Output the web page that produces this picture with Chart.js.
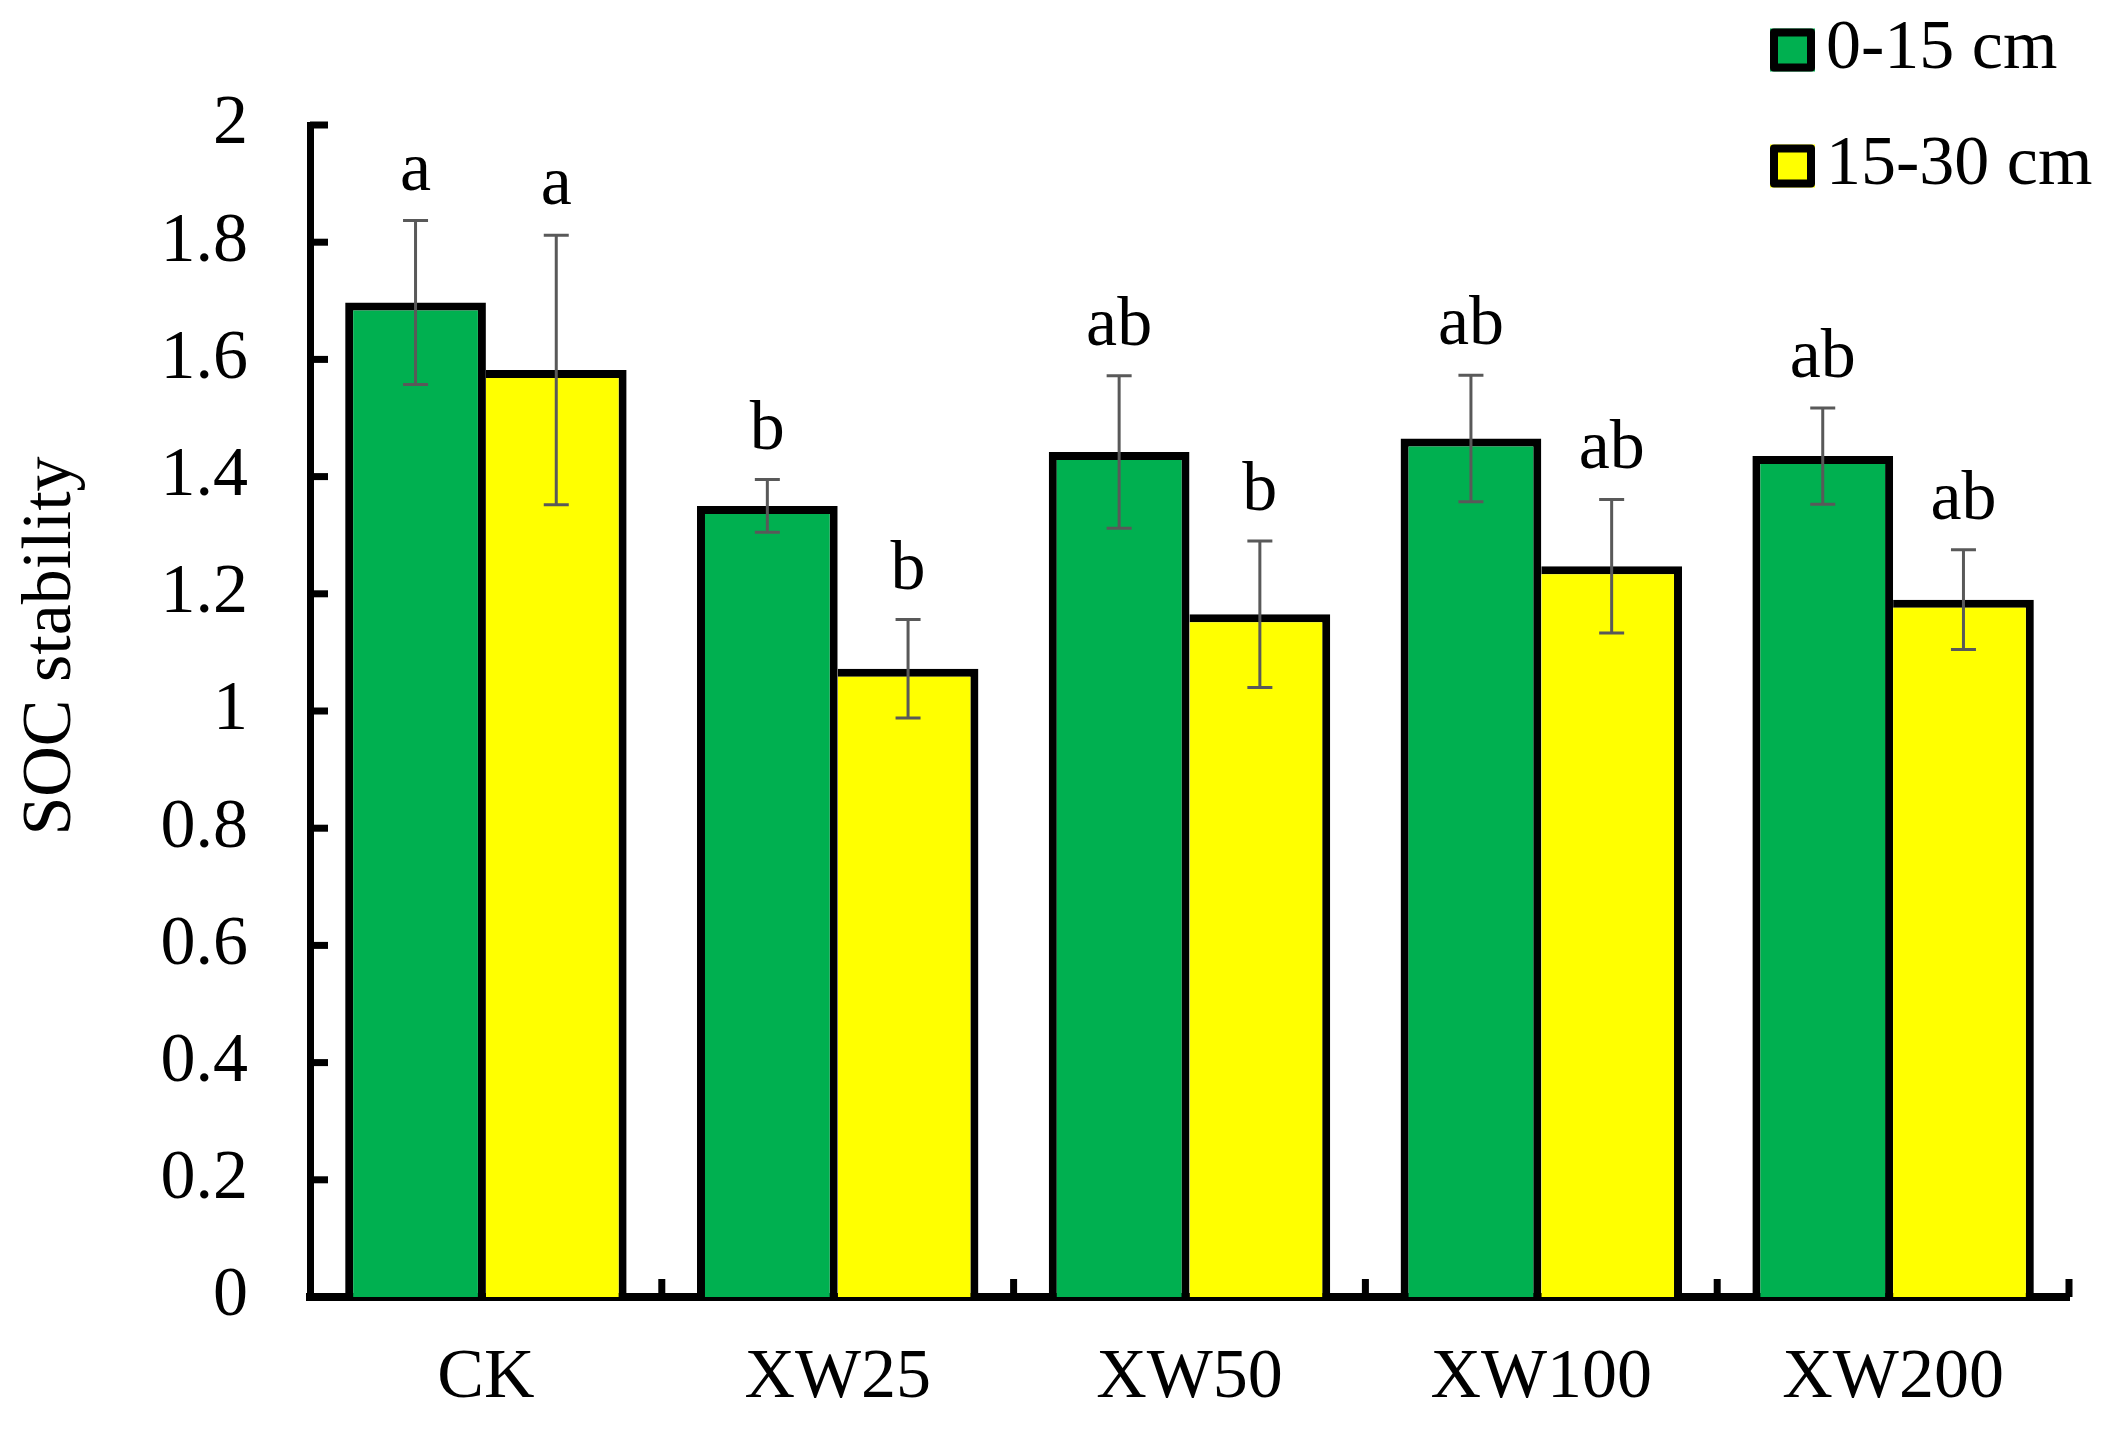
<!DOCTYPE html>
<html>
<head>
<meta charset="utf-8">
<script src="https://cdn.jsdelivr.net/npm/chart.js@4.4.1/dist/chart.umd.min.js"></script>
<style>
html,body{margin:0;padding:0;background:#fff;}
canvas{display:block;}
</style>
</head>
<body>
<canvas id="c" width="2117" height="1430"></canvas>
<script>
// ---- data ----
const categories = ['CK', 'XW25', 'XW50', 'XW100', 'XW200'];
const seriesNames = ['0-15 cm', '15-30 cm'];
const shallowMean = [1.697, 1.35, 1.442, 1.465, 1.435];
const shallowErr = [0.14, 0.045, 0.13, 0.108, 0.082];
const shallowLetters = ['a', 'b', 'ab', 'ab', 'ab'];
const deepMean = [1.582, 1.072, 1.165, 1.247, 1.19];
const deepErr = [0.23, 0.084, 0.125, 0.114, 0.085];
const deepLetters = ['a', 'b', 'b', 'ab', 'ab'];
const yTicks = [0, 0.2, 0.4, 0.6, 0.8, 1, 1.2, 1.4, 1.6, 1.8, 2];
const yTitle = 'SOC stability';

const FONT = "'Liberation Serif', 'Times New Roman', serif";
const FS = 70;
const GREEN = '#00B050';
const YELLOW = '#FFFF00';
const ERR = '#595959';

const errors = [shallowErr, deepErr];
const letters = [shallowLetters, deepLetters];

const decor = {
  id: 'decor',
  afterDatasetsDraw(chart) {
    const ctx = chart.ctx;
    const ys = chart.scales.y;
    chart.data.datasets.forEach((ds, di) => {
      const meta = chart.getDatasetMeta(di);
      meta.data.forEach((el, i) => {
        const m = ds.data[i], e = errors[di][i];
        const yt = ys.getPixelForValue(m + e);
        const yb = ys.getPixelForValue(m - e);
        const x = el.x;
        ctx.save();
        ctx.strokeStyle = ERR;
        ctx.lineWidth = 3;
        ctx.beginPath();
        ctx.moveTo(x, yt); ctx.lineTo(x, yb);
        ctx.moveTo(x - 12.5, yt); ctx.lineTo(x + 12.5, yt);
        ctx.moveTo(x - 12.5, yb); ctx.lineTo(x + 12.5, yb);
        ctx.stroke();
        ctx.fillStyle = '#000';
        ctx.font = FS + 'px ' + FONT;
        ctx.textAlign = 'center';
        ctx.textBaseline = 'alphabetic';
        ctx.fillText(letters[di][i], x, yt - 31);
        ctx.restore();
      });
    });
  },
  afterDraw(chart) {
    const ctx = chart.ctx;
    const ys = chart.scales.y, xs = chart.scales.x;
    const area = chart.chartArea;
    ctx.save();
    // inward y ticks
    ctx.fillStyle = '#000';
    yTicks.forEach(v => {
      const py = ys.getPixelForValue(v);
      ctx.fillRect(area.left, py - 3.5, 18, 7);
    });
    // x ticks at category boundaries (pointing up)
    const half = (xs.getPixelForValue(1) - xs.getPixelForValue(0)) / 2;
    categories.forEach((c, i) => {
      const px = xs.getPixelForValue(i) + half;
      ctx.fillRect(px - 3.5, area.bottom - 18, 7, 18);
    });
    // y title
    ctx.translate(52, 646);
    ctx.rotate(-Math.PI / 2);
    ctx.font = FS + 'px ' + FONT;
    ctx.textAlign = 'center';
    ctx.textBaseline = 'middle';
    ctx.fillStyle = '#000';
    ctx.fillText(yTitle, 0, 0);
    ctx.restore();
    // legend
    ctx.save();
    chart.data.datasets.forEach((ds, di) => {
      const cy = 50 + di * 116;
      const bx = 1770, bw = 45, bh = 43;
      ctx.fillStyle = ds.backgroundColor;
      ctx.fillRect(bx, cy - bh / 2, bw, bh);
      ctx.strokeStyle = '#000';
      ctx.lineWidth = 8;
      ctx.lineJoin = 'round';
      ctx.strokeRect(bx + 4, cy - bh / 2 + 4, bw - 8, bh - 8);
      ctx.fillStyle = '#000';
      ctx.font = FS + 'px ' + FONT;
      ctx.textAlign = 'left';
      ctx.textBaseline = 'middle';
      ctx.fillText(ds.label, 1826, cy);
    });
    ctx.restore();
  }
};

new Chart(document.getElementById('c'), {
  type: 'bar',
  data: {
    labels: categories,
    datasets: [
      {
        label: seriesNames[0],
        data: shallowMean,
        backgroundColor: GREEN,
        borderColor: '#000',
        borderWidth: {top: 8, left: 8, right: 8, bottom: 0},
        borderSkipped: 'start',
        categoryPercentage: 0.8,
        barPercentage: 1.0
      },
      {
        label: seriesNames[1],
        data: deepMean,
        backgroundColor: YELLOW,
        borderColor: '#000',
        borderWidth: {top: 8, left: 0, right: 8, bottom: 0},
        borderSkipped: 'start',
        categoryPercentage: 0.8,
        barPercentage: 1.0
      }
    ]
  },
  options: {
    responsive: false,
    animation: false,
    devicePixelRatio: 1,
    layout: {padding: {left: 0, top: 125, right: 48, bottom: 0}},
    plugins: {legend: {display: false}, tooltip: {enabled: false}},
    scales: {
      x: {
        z: 1,
        grid: {display: false, drawTicks: false},
        border: {display: true, color: '#000', width: 8},
        ticks: {
          color: '#000',
          font: {family: FONT, size: FS},
          padding: 40,
          maxRotation: 0
        },
        afterFit(scale) { scale.height = 133; }
      },
      y: {
        z: 1,
        min: 0,
        max: 2,
        grid: {display: false, drawTicks: false},
        border: {display: true, color: '#000', width: 7},
        afterBuildTicks(scale) { scale.ticks = yTicks.map(v => ({value: v})); },
        ticks: {
          color: '#000',
          font: {family: FONT, size: FS},
          padding: 62,
          callback: v => String(v)
        },
        afterFit(scale) { scale.width = 310; }
      }
    }
  },
  plugins: [decor]
});
</script>
</body>
</html>
